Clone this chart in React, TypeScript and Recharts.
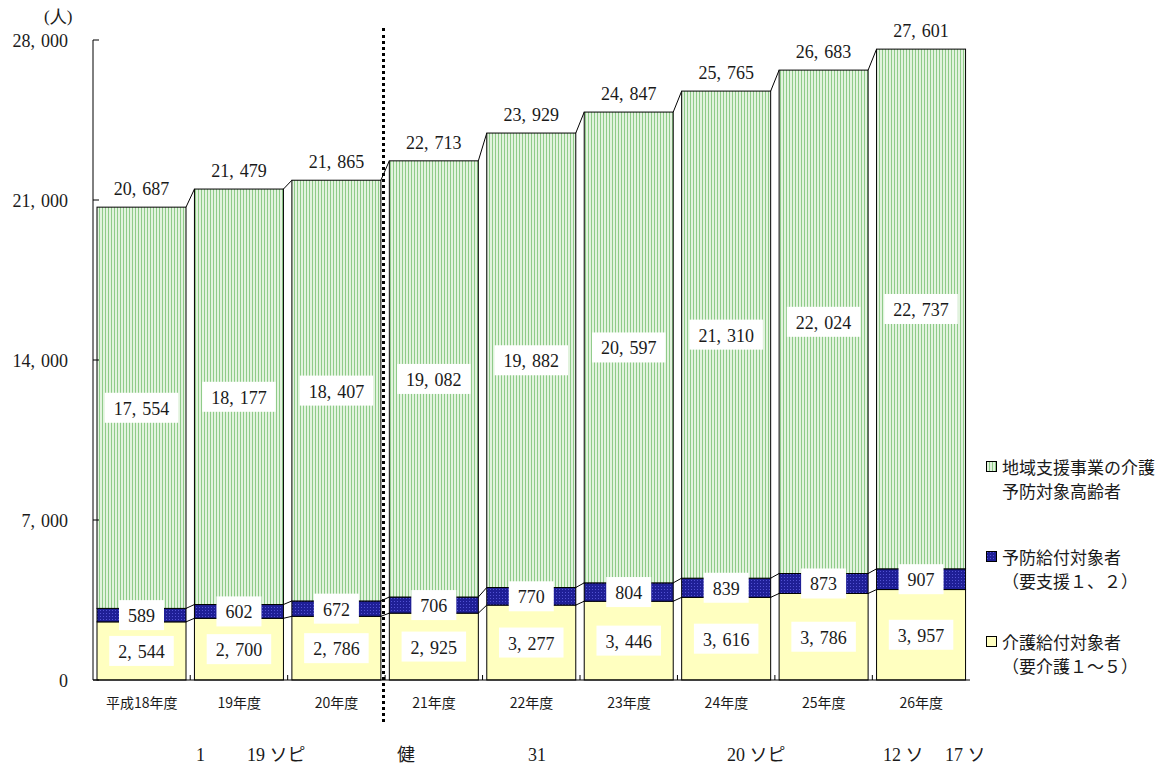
import React from 'react';
import { BarChart, Bar, XAxis, YAxis, LabelList } from 'recharts';

const CATEGORIES = ['平成18年度', '19年度', '20年度', '21年度', '22年度', '23年度', '24年度', '25年度', '26年度'];
const KAIGO = [2544, 2700, 2786, 2925, 3277, 3446, 3616, 3786, 3957];
const YOBO = [589, 602, 672, 706, 770, 804, 839, 873, 907];
const CHIIKI = [17554, 18177, 18407, 19082, 19882, 20597, 21310, 22024, 22737];
const TOTALS = [20687, 21479, 21865, 22713, 23929, 24847, 25765, 26683, 27601];
const Y_TICKS = [0, 7000, 14000, 21000, 28000];
const UNIT_LABEL = '(人)';
const LEGEND_GREEN = ['地域支援事業の介護', '予防対象高齢者'];
const LEGEND_BLUE = ['予防給付対象者', '（要支援１、２）'];
const LEGEND_YELLOW = ['介護給付対象者', '（要介護１～５）'];
const FOOTNOTE_TEXTS = ['1', '19 ソピ', '健', '31', '20 ソピ', '12 ソ', '17 ソ'];
const FOOTNOTE_LEFT = [196, 247, 397, 528, 727, 883, 945];

const W = 1174;
const H = 767;
const PLOT_LEFT = 93;
const PLOT_RIGHT = 970;
const PLOT_TOP = 40;
const PLOT_BOTTOM = 680;
const YAXIS_W = 60;
const XAXIS_H = 30;
const BAND = (PLOT_RIGHT - PLOT_LEFT) / CATEGORIES.length;

const NUM_FONT = "'Liberation Serif', 'DejaVu Serif', serif";
const CJK_FONT = "'Noto Sans CJK JP', 'Noto Sans', sans-serif";

const data = CATEGORIES.map((name, i) => ({
  name,
  kaigo: KAIGO[i],
  yobo: YOBO[i],
  chiiki: CHIIKI[i],
  total: TOTALS[i],
}));

const fmt = (n: number) => n.toLocaleString('en-US');

const segVal = (key: string, i: number) =>
  key === 'kaigo' ? KAIGO[i] : key === 'yobo' ? YOBO[i] : CHIIKI[i];
const cumTop = (key: string, i: number) =>
  key === 'kaigo' ? KAIGO[i] : key === 'yobo' ? KAIGO[i] + YOBO[i] : KAIGO[i] + YOBO[i] + CHIIKI[i];

const textW = (s: string) => {
  const digits = s.replace(/,/g, '').length;
  const commas = s.length - digits;
  return digits * 9 + commas * 10.5;
};

const NumText = ({ x, y, s, size = 18, anchor = 'middle' }: any) => {
  const parts = s.split(',');
  return (
    <text x={x} y={y} textAnchor={anchor} dominantBaseline="central" fontFamily={NUM_FONT} fontSize={size} fill="#1a1a1a">
      {parts.map((p: string, i: number) => (
        <tspan key={i} dx={i > 0 ? 6 : undefined}>
          {p}
          {i < parts.length - 1 ? ',' : ''}
        </tspan>
      ))}
    </text>
  );
};

const makeShape = (key: string, fill: string) => (props: any) => {
  const { x, y, width, height, index } = props;
  const n = CATEGORIES.length;
  const k = height / segVal(key, index);
  const els: any[] = [
    <rect key="r" x={x} y={y} width={width} height={height} fill={fill} stroke="#000" strokeWidth={1} />,
  ];
  if (index < n - 1) {
    const yNext = y + (cumTop(key, index) - cumTop(key, index + 1)) * k;
    els.push(<line key="c" x1={x + width} y1={y} x2={x + BAND} y2={yNext} stroke="#000" strokeWidth={1} />);
    if (key === 'kaigo') {
      const xm = x + width + (BAND - width) / 2;
      const yb = y + height;
      els.push(<line key="t" x1={xm} y1={yb} x2={xm} y2={yb - 5} stroke="#000" strokeWidth={1} />);
    }
  }
  return <g>{els}</g>;
};

const getBox = (props: any) => {
  const vb = props.viewBox || {};
  return {
    x: props.x ?? vb.x,
    y: props.y ?? vb.y,
    width: props.width ?? vb.width,
    height: props.height ?? vb.height,
    index: props.index,
  };
};

const makeLabel = (key: string) => (props: any) => {
  const { x, y, width, height, index } = getBox(props);
  const s = fmt(segVal(key, index));
  const cx = x + width / 2;
  const cy = y + height / 2;
  const w = textW(s) + 18;
  return (
    <g>
      <rect x={cx - w / 2} y={cy - 15} width={w} height={30} fill="#fff" />
      <NumText x={cx} y={cy + 1} s={s} />
    </g>
  );
};

const totalLabel = (props: any) => {
  const { x, y, width, index } = getBox(props);
  return <NumText x={x + width / 2} y={y - 18} s={fmt(TOTALS[index])} />;
};

const YTick = (props: any) => {
  const { x, y, payload } = props;
  return (
    <g>
      <NumText x={x} y={y + 1} s={fmt(payload.value)} anchor="end" size={18} />
      <line x1={x + 25} x2={x + 31} y1={y} y2={y} stroke="#000" strokeWidth={1} />
    </g>
  );
};

const XTick = (props: any) => {
  const { x, y, payload } = props;
  return (
    <text x={x} y={y + 22} textAnchor="middle" dominantBaseline="central" fontFamily={CJK_FONT} fontSize={14} fill="#1a1a1a">
      {payload.value}
    </text>
  );
};

const Swatch = ({ top, fill }: any) => (
  <svg style={{ position: 'absolute', left: 986, top }} width={11} height={11}>
    <rect x={0.5} y={0.5} width={10} height={10} fill={fill} stroke="#000" strokeWidth={1} />
  </svg>
);

const LegendText = ({ top, lines }: any) => (
  <div
    style={{
      position: 'absolute',
      left: 1002,
      top,
      fontFamily: CJK_FONT,
      fontSize: 17,
      lineHeight: '24px',
      color: '#1a1a1a',
      whiteSpace: 'nowrap',
    }}
  >
    {lines.map((l: string, i: number) => (
      <div key={i}>{l}</div>
    ))}
  </div>
);

export default function App() {
  return (
    <div style={{ position: 'absolute', left: 0, top: 0, width: W, height: H, background: '#fff', overflow: 'hidden' }}>
      <svg width={0} height={0} style={{ position: 'absolute' }}>
        <defs>
          <pattern id="pGreen" patternUnits="userSpaceOnUse" width={3} height={10}>
            <rect x={0} y={0} width={3} height={10} fill="#e2f3de" />
            <rect x={0} y={0} width={1} height={10} fill="#8fcb89" />
          </pattern>
          <pattern id="pBlue" patternUnits="userSpaceOnUse" width={3} height={3}>
            <rect x={0} y={0} width={3} height={3} fill="#1f1f96" />
            <rect x={1} y={1} width={1} height={1} fill="#5252d2" />
          </pattern>
        </defs>
      </svg>

      <BarChart
        width={W}
        height={H}
        data={data}
        margin={{ top: PLOT_TOP, right: W - PLOT_RIGHT, left: PLOT_LEFT - YAXIS_W, bottom: H - PLOT_BOTTOM - XAXIS_H }}
        barSize={89}
      >
        <XAxis
          dataKey="name"
          height={XAXIS_H}
          tickLine={false}
          tickSize={0}
          tickMargin={0}
          axisLine={{ stroke: '#000', strokeWidth: 1 }}
          tick={<XTick />}
          interval={0}
        />
        <YAxis
          width={YAXIS_W}
          domain={[0, 28000]}
          ticks={Y_TICKS}
          tickLine={false}
          tickSize={0}
          tickMargin={25}
          axisLine={{ stroke: '#000', strokeWidth: 1 }}
          tick={<YTick />}
          interval={0}
        />
        <Bar dataKey="kaigo" stackId="a" isAnimationActive={false} shape={makeShape('kaigo', '#ffffc0')}>
          <LabelList content={makeLabel('kaigo')} />
        </Bar>
        <Bar dataKey="yobo" stackId="a" isAnimationActive={false} shape={makeShape('yobo', 'url(#pBlue)')}>
          <LabelList content={makeLabel('yobo')} />
        </Bar>
        <Bar dataKey="chiiki" stackId="a" isAnimationActive={false} shape={makeShape('chiiki', 'url(#pGreen)')}>
          <LabelList content={makeLabel('chiiki')} />
          <LabelList content={totalLabel} />
        </Bar>
      </BarChart>

      <div
        style={{
          position: 'absolute',
          left: 44,
          top: 6,
          fontFamily: NUM_FONT,
          fontSize: 17,
          lineHeight: '22px',
          color: '#1a1a1a',
        }}
      >
        {UNIT_LABEL}
      </div>

      <div
        style={{
          position: 'absolute',
          left: 382,
          top: 28,
          width: 0,
          height: 694,
          borderLeft: '3px dotted #000',
        }}
      />

      <Swatch top={461} fill="url(#pGreen)" />
      <LegendText top={455} lines={LEGEND_GREEN} />
      <Swatch top={551} fill="url(#pBlue)" />
      <LegendText top={545} lines={LEGEND_BLUE} />
      <Swatch top={636} fill="#ffffc0" />
      <LegendText top={630} lines={LEGEND_YELLOW} />

      {FOOTNOTE_TEXTS.map((t, i) => (
        <div
          key={i}
          style={{
            position: 'absolute',
            left: FOOTNOTE_LEFT[i],
            top: 744,
            fontFamily: "'Liberation Serif', 'Noto Sans CJK JP', serif",
            fontSize: 18,
            lineHeight: '22px',
            color: '#1a1a1a',
            whiteSpace: 'pre',
          }}
        >
          {t}
        </div>
      ))}
    </div>
  );
}
